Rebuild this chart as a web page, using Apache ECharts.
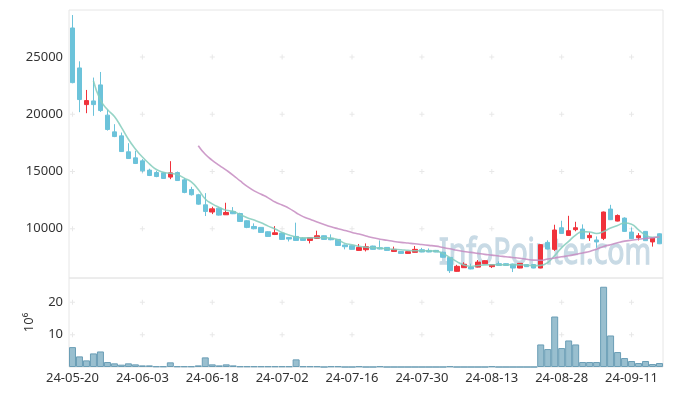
<!DOCTYPE html>
<html><head><meta charset="utf-8">
<script src="https://cdn.jsdelivr.net/npm/echarts@6/dist/echarts.min.js"></script>
<style>html,body{margin:0;padding:0;background:#fff}#c{width:673px;height:396px}</style>
</head><body><div id="c"></div>
<script>
const categories = ['24-05-20','24-05-21','24-05-22','24-05-23','24-05-24','24-05-27','24-05-28','24-05-29','24-05-30','24-05-31',
'24-06-03','24-06-04','24-06-05','24-06-07','24-06-10','24-06-11','24-06-12','24-06-13','24-06-14','24-06-17',
'24-06-18','24-06-19','24-06-20','24-06-21','24-06-24','24-06-25','24-06-26','24-06-27','24-06-28','24-07-01',
'24-07-02','24-07-03','24-07-04','24-07-05','24-07-08','24-07-09','24-07-10','24-07-11','24-07-12','24-07-15',
'24-07-16','24-07-17','24-07-18','24-07-19','24-07-22','24-07-23','24-07-24','24-07-25','24-07-26','24-07-29',
'24-07-30','24-07-31','24-08-01','24-08-02','24-08-05','24-08-06','24-08-07','24-08-08','24-08-09','24-08-12',
'24-08-13','24-08-14','24-08-16','24-08-19','24-08-20','24-08-21','24-08-22','24-08-23','24-08-26','24-08-27',
'24-08-28','24-08-29','24-08-30','24-09-02','24-09-03','24-09-04','24-09-05','24-09-06','24-09-09','24-09-10',
'24-09-11','24-09-12','24-09-13','24-09-19','24-09-20'];

const openPrice = [27530,24040,20840,21160,22560,19920,18460,18110,16720,16190,
15930,15120,14910,14880,14510,14910,14270,13430,12970,12090,
11460,11800,11220,11510,11330,10700,10200,10120,9740,9500,
9620,9240,9330,9160,8980,9160,9390,9160,9070,8580,
8520,8110,8170,8490,8340,8370,8020,8020,7850,7940,
8170,8110,8110,7950,7500,6280,6600,6660,6650,6950,
6690,6950,6950,6920,6570,6870,6870,6570,8810,8200,
10090,9420,9920,9970,9220,9020,9160,11720,10670,10930,
9710,9220,9770,8850,9560];
const closePrice = [22760,21280,21190,20840,20320,18670,18050,16740,16130,15700,
15060,14650,14560,14390,14880,14210,13170,12970,12150,11510,
11740,11190,11420,11310,10640,10120,10000,9680,9330,9650,
9070,9100,8980,8980,9220,9390,9070,9040,8540,8430,
8200,8370,8430,8200,8230,8110,8200,7850,8000,8200,
7970,7970,7970,7510,6340,6720,6900,6490,7090,7210,
6870,6800,6800,6570,6980,6690,6570,8610,8230,9890,
9590,9830,10090,9130,9420,8850,11460,10790,11160,9770,
9130,9390,8960,9190,8690];
const lowPrice = [22700,20180,20090,19860,20200,18570,18000,16700,16100,15650,
14910,14600,14500,14350,14330,14180,13100,12900,12100,11110,
11280,11150,11200,11280,10600,10050,9950,9650,9300,9450,
9040,8890,8950,8950,8720,9130,9040,9000,8510,8200,
8170,8080,8020,8170,8200,8080,8000,7820,7830,7920,
7950,7950,7950,7480,6140,6250,6580,6460,6620,6930,
6570,6780,6780,6220,6550,6670,6550,6550,8200,8060,
9560,9400,9780,9100,8940,8340,9010,10760,10640,9740,
9100,8980,8930,8440,8660];
const highPrice = [28660,24620,22120,23200,23690,20380,19130,18400,17470,16800,
16080,15240,15060,14950,15900,15000,14420,13660,13050,13110,
11920,11850,12270,11890,11400,10750,10470,10150,9780,10230,
9660,9280,10530,9250,9250,9830,9420,9510,9100,8620,
8560,8670,8720,8520,8980,8400,8440,8050,8030,8490,
8330,8280,8150,8000,7530,6850,7070,6950,7270,7250,
6900,7150,6980,6950,7000,6900,6900,8650,8990,10350,
10700,11130,10610,10380,9690,9330,11500,12090,11250,11000,
10110,9620,9800,9220,9600];

const ma5 = [null,null,null,22900,21230,20410,19800,18850,17820,16970,
16260,15670,15170,14940,14840,14730,14420,14100,13420,12600,
12170,11860,11610,11520,11230,10970,10760,10520,10230,9980,
9680,9460,9270,9200,9200,9230,9220,9190,9020,8720,
8600,8470,8390,8350,8310,8250,8200,8170,8110,8080,
8080,8080,8050,7850,7480,7130,6830,6720,6790,6850,
6860,6860,6860,6860,6850,6820,6780,6800,7050,7650,
8350,8900,9450,9750,9720,9580,9760,10060,10280,10500,
10400,9900,9450,9250,9280];
const ma20 = [null,null,null,null,null,null,null,null,null,null,
null,null,null,null,null,null,null,null,17250,16500,
15980,15540,15120,14670,14170,13700,13310,13010,12700,12330,
12070,11780,11400,11060,10830,10590,10370,10170,10000,9840,
9680,9540,9370,9210,9090,8990,8890,8810,8750,8690,
8620,8550,8480,8370,8250,8120,8020,7940,7850,7760,
7700,7620,7560,7490,7420,7330,7260,7250,7360,7450,
7550,7640,7760,7890,8020,8220,8460,8610,8780,8920,
8990,9080,9150,9220,9280];

// volume in millions (10^6)
const volume = [6.15,3.28,2.05,4.2,4.8,1.54,1.13,0.72,1.13,0.82,
0.5,0.5,0.2,0.2,1.44,0.2,0.2,0.2,0.5,2.97,
0.82,0.5,0.82,0.5,0.2,0.2,0.2,0.2,0.2,0.2,
0.2,0.2,2.36,0.2,0.2,0.2,0,0.2,0.2,0,
0,0.2,0,0,0.2,0,0,0,0,0,
0,0,0,0,0.2,0,0,0,0,0,
0.2,0,0,0,0,0,0,6.97,5.54,15.6,
5.85,8.2,6.97,1.54,1.54,1.54,24.8,9.74,4.62,2.77,
1.85,1.23,1.85,0.92,1.23];

const priceTicks = [10000,15000,20000,25000];
const volumeTicks = [10,20];
const labelStep = 10;

const candleData = categories.map((c,i)=>[openPrice[i],closePrice[i],lowPrice[i],highPrice[i]]);
const crossIdx = categories.map((c,i)=>i).filter(i=>i%labelStep===0);
const priceCross = [];
crossIdx.forEach(i=>priceTicks.forEach(v=>priceCross.push([i,v])));
const volCross = [];
crossIdx.forEach(i=>volumeTicks.forEach(v=>volCross.push([i,v])));

const FONT = 'Noto Sans';
const plus = 'path://M2,0h1v2h2v1h-2v2h-1v-2h-2v-1h2z';

const chart = echarts.init(document.getElementById('c'));
chart.setOption({
  animation:false,
  backgroundColor:'#fff',
  textStyle:{fontFamily:FONT},
  graphic:[{
    type:'text', x:439, y:236, z:0, scaleX:0.79,
    style:{text:'InfoPointer.com', font:'36px "Noto Sans"', fill:'#c8dae5', stroke:'#c8dae5', lineWidth:1.3, verticalAlign:'top'}
  }],
  grid:[
    {left:69, right:10, top:10, height:268, show:true, borderColor:'#e6e6e6', borderWidth:1},
    {left:69, right:10, top:278, height:89, show:true, borderColor:'#e6e6e6', borderWidth:1}
  ],
  xAxis:[
    {type:'category', gridIndex:0, data:categories, boundaryGap:true,
     axisLine:{show:false}, axisTick:{show:false}, axisLabel:{show:false}, splitLine:{show:false}},
    {type:'category', gridIndex:1, data:categories, boundaryGap:true,
     axisLine:{show:false}, axisTick:{show:false}, splitLine:{show:false},
     axisLabel:{interval:labelStep-1, color:'#333', fontSize:13, fontFamily:FONT, margin:5}}
  ],
  yAxis:[
    {type:'value', gridIndex:0, min:5700, max:29100, scale:true,
     axisLine:{show:false}, axisTick:{show:false}, splitLine:{show:false},
     axisLabel:{color:'#333', fontSize:13, fontFamily:FONT, margin:6, showMinLabel:false, showMaxLabel:false,
       formatter:v=>priceTicks.indexOf(v)>=0?String(v):''}},
    {type:'value', gridIndex:1, min:0, max:27.5, interval:10,
     name:'10\u2076', nameLocation:'middle', nameRotate:90, nameGap:33,
     nameTextStyle:{color:'#333', fontSize:13, fontFamily:FONT},
     axisLine:{show:false}, axisTick:{show:false}, splitLine:{show:false},
     axisLabel:{color:'#333', fontSize:13, fontFamily:FONT, margin:6, showMinLabel:false, showMaxLabel:false,
       formatter:v=>volumeTicks.indexOf(v)>=0?String(v):''}}
  ],
  series:[
    {type:'scatter', xAxisIndex:0, yAxisIndex:0, data:priceCross, symbol:plus, symbolSize:5,
     itemStyle:{color:'#e2e2e2'}, silent:true, z:1},
    {type:'scatter', xAxisIndex:1, yAxisIndex:1, data:volCross, symbol:plus, symbolSize:5,
     itemStyle:{color:'#e2e2e2'}, silent:true, z:1},
    {type:'candlestick', xAxisIndex:0, yAxisIndex:0, data:candleData, barWidth:'72%', z:3,
     itemStyle:{color:'#f0323b', color0:'#6cc3da', borderColor:'#f0323b', borderColor0:'#6cc3da', borderWidth:1}},
    {type:'line', xAxisIndex:0, yAxisIndex:0, data:ma5, smooth:true, showSymbol:false, z:4,
     lineStyle:{color:'#84ccbc', width:1.6, opacity:0.85}},
    {type:'line', xAxisIndex:0, yAxisIndex:0, data:ma20, smooth:true, showSymbol:false, z:4,
     lineStyle:{color:'#c58bc1', width:1.6, opacity:0.85}},
    {type:'bar', xAxisIndex:1, yAxisIndex:1, data:volume, barCategoryGap:'0%', z:3,
     itemStyle:{color:'#99bfcf', borderColor:'#6b9eb6', borderWidth:1}}
  ]
});
</script></body></html>
